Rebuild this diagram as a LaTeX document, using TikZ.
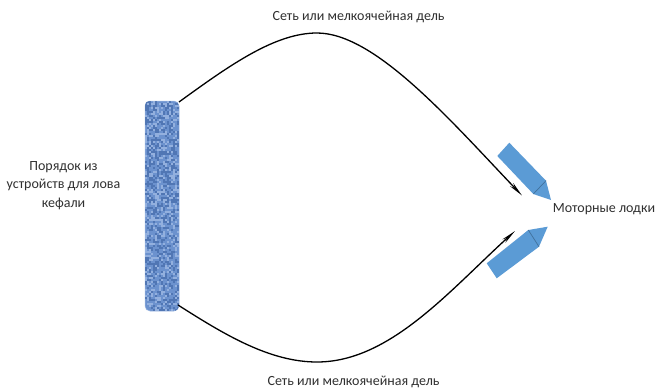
\documentclass[tikz,border=0pt]{standalone}
\usepackage{fontspec}
\setmainfont{Carlito}
\usetikzlibrary{arrows.meta}
\definecolor{boatblue}{HTML}{5B9BD5}
\definecolor{boatedge}{HTML}{41719C}
\definecolor{netbase}{HTML}{6C92CE}
\definecolor{netdark}{HTML}{4A70AE}
\definecolor{netlight}{HTML}{9DB8E2}
\definecolor{labelgray}{HTML}{303030}
\tikzset{
  lbl/.style={font=\fontsize{14}{18.5}\selectfont,text=labelgray,inner sep=0pt,align=center},
  netline/.style={draw=black,line width=1.3pt,-{Stealth[length=15pt,width=4.5pt,inset=5pt]}},
  boat/.style={fill=boatblue,draw=none},
  boatseam/.style={draw=boatedge,line width=0.7pt},
}
\begin{document}
\begin{tikzpicture}[x=1pt,y=-1pt]
\useasboundingbox (0,0) rectangle (656,388);
\fill[white] (0,0) rectangle (656,388);
% net bar
\node[minimum width=34pt,minimum height=210pt,inner sep=0pt,rounded corners=5pt,fill=netbase,draw=netlight,line width=0.5pt] (bar) at (162,206) {};
\begin{scope}
\clip[rounded corners=5pt] (bar.south west) rectangle (bar.north east);
\pgfmathsetseed{42}
\foreach \iy in {0,...,104}{
  \foreach \ix in {0,...,16}{
    \pgfmathsetmacro{\rr}{rnd}
    \pgfmathsetmacro{\px}{145+\ix*2}
    \pgfmathsetmacro{\py}{101+\iy*2}
    \ifdim\rr pt<0.35pt
      \fill[netdark,opacity=.8] (\px,\py) rectangle ++(2,2);
    \else\ifdim\rr pt<0.6pt
      \fill[netlight,opacity=.8] (\px,\py) rectangle ++(2,2);
    \fi\fi
  }
}
\end{scope}
% connector ends
\coordinate (topend) at (522,195.5);
\coordinate (botend) at (515,231);
\coordinate (toppeak) at (317,33);
\coordinate (botpeak) at (317,362);
\coordinate (topstart) at (179,102);
\coordinate (botstart) at (178,305);
\draw[netline] (topstart) .. controls (230,65) and (275,33) .. (toppeak) .. controls (375,33) and (450,120) .. (topend);
\draw[netline] (botstart) .. controls (225,335) and (270,362) .. (botpeak) .. controls (390,362) and (450,290) .. (botend);
% boats
\fill[boat] (509.3,142.7) -- (497.3,156) -- (533.3,194) -- (551,200) -- (546,180.7) -- cycle;
\draw[boatseam] (533.3,194) -- (546,180.7);
\fill[boat] (486.7,263.3) -- (496.7,278.3) -- (539,246.7) -- (547.7,226.7) -- (528.3,230) -- cycle;
\draw[boatseam] (528.3,230) -- (539,246.7);
% labels
\node[lbl] (t1) at (358.5,16.5) {Сеть или мелкоячейная дель};
\node[lbl] (t2) at (353.5,381.5) {Сеть или мелкоячейная дель};
\node[lbl] (t3) at (63.5,185.5) {Порядок из\\устройств для лова\\кефали};
\node[lbl] (t4) at (604,209.5) {Моторные лодки};
\end{tikzpicture}
\end{document}
